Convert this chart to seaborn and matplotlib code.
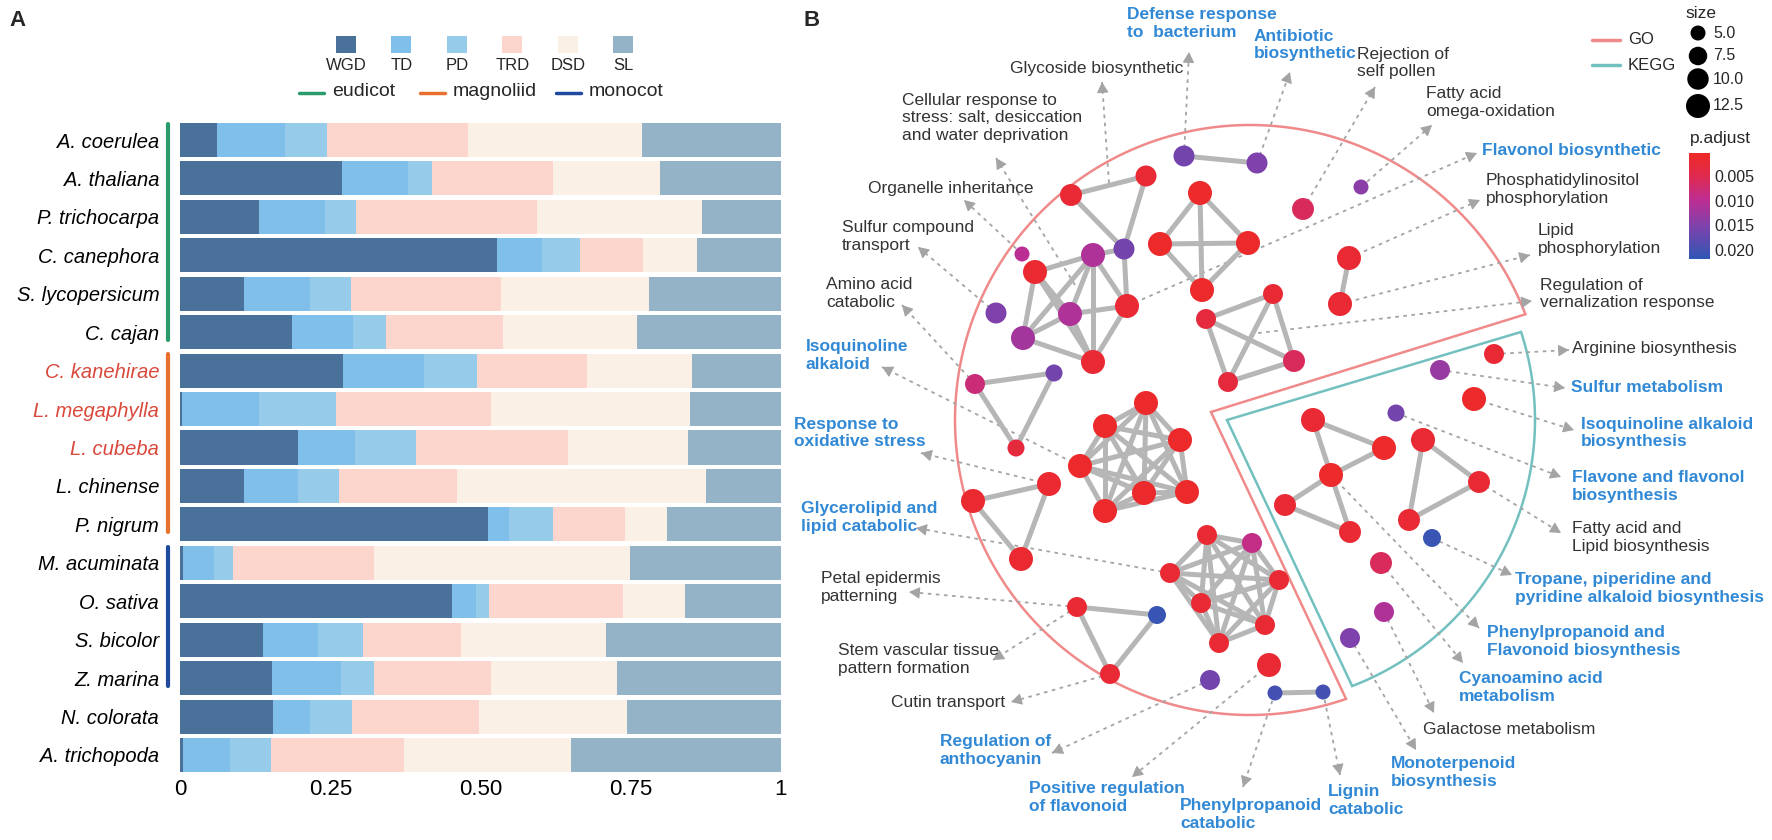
import itertools
import numpy as np
import pandas as pd
import matplotlib
matplotlib.use('Agg')
import matplotlib.pyplot as plt
import seaborn as sns
from matplotlib.patches import Rectangle, Polygon
from matplotlib.colors import LinearSegmentedColormap, Normalize
from matplotlib.cm import ScalarMappable

sns.set_theme(style='white')
plt.rcParams['font.family'] = ['Liberation Sans', 'DejaVu Sans']

# ---------------- panel A data ----------------
species = ['A. coerulea', 'A. thaliana', 'P. trichocarpa', 'C. canephora', 'S. lycopersicum',
           'C. cajan', 'C. kanehirae', 'L. megaphylla', 'L. cubeba', 'L. chinense', 'P. nigrum',
           'M. acuminata', 'O. sativa', 'S. bicolor', 'Z. marina', 'N. colorata', 'A. trichopoda']
red_species = ['C. kanehirae', 'L. megaphylla', 'L. cubeba']
wgd = [0.061, 0.270, 0.131, 0.528, 0.106, 0.186, 0.272, 0.004, 0.197, 0.107, 0.512,
       0.005, 0.453, 0.138, 0.153, 0.155, 0.005]
td = [0.113, 0.109, 0.111, 0.075, 0.111, 0.102, 0.134, 0.127, 0.094, 0.090, 0.035,
      0.051, 0.039, 0.091, 0.115, 0.061, 0.079]
pd_ = [0.071, 0.040, 0.051, 0.063, 0.067, 0.055, 0.089, 0.128, 0.101, 0.067, 0.073,
       0.032, 0.022, 0.076, 0.055, 0.070, 0.068]
trd = [0.235, 0.201, 0.301, 0.104, 0.250, 0.195, 0.183, 0.259, 0.253, 0.197, 0.120,
       0.235, 0.223, 0.162, 0.195, 0.212, 0.220]
dsd = [0.288, 0.178, 0.274, 0.090, 0.246, 0.223, 0.174, 0.331, 0.201, 0.415, 0.070,
       0.426, 0.103, 0.241, 0.209, 0.245, 0.279]
sl = [0.232, 0.202, 0.132, 0.140, 0.220, 0.239, 0.148, 0.151, 0.154, 0.124, 0.190,
      0.251, 0.160, 0.292, 0.273, 0.257, 0.349]
categories = ['WGD', 'TD', 'PD', 'TRD', 'DSD', 'SL']
cat_colors = ['#4a7199', '#7fbfea', '#97cbea', '#fcd6cc', '#faf0e6', '#94b3c6']
groups = ['eudicot', 'magnoliid', 'monocot']
group_rows = [(0, 5), (6, 10), (11, 14)]
group_colors = ['#2b9b6b', '#e8702e', '#1f4aa0']

# ---------------- panel B data ----------------
node_x = [1184, 1257, 1146, 1071, 1124, 1022, 1035, 1093, 1070, 1127, 996, 1023, 1093,
          1200, 1160, 1248, 1202, 1361, 1303, 1349, 1340, 1273, 1206, 1294, 1228,
          975, 1054, 1016, 1146, 1105, 1180, 1080, 1144, 1187, 1105, 973, 1049, 1021,
          1170, 1207, 1252, 1279, 1201, 1265, 1219, 1077, 1157, 1110, 1269, 1210, 1275, 1323,
          1494, 1440, 1474, 1396, 1313, 1384, 1331, 1285, 1350, 1423, 1479, 1409, 1432,
          1381, 1384, 1350]
node_y = [156, 163, 176, 195, 249, 254, 272, 255, 314, 306, 313, 338, 362,
          193, 244, 243, 290, 187, 209, 258, 304, 294, 319, 361, 382,
          384, 373, 448, 403, 426, 440, 466, 493, 492, 511, 501, 484, 559,
          573, 535, 543, 580, 603, 625, 643, 607, 615, 674, 665, 680, 693, 692,
          354, 370, 399, 413, 420, 448, 475, 505, 532, 440, 482, 520, 538,
          563, 612, 638]
node_count = [9.6, 9.6, 9.6, 10.5, 9.6, 3.3, 13.5, 13.5, 13.5, 12.5, 9.6, 13.5, 12.5,
              13.5, 13.5, 13.5, 12.5, 3.3, 10.5, 12.5, 12.5, 8.7, 8.7, 10.5, 8.7,
              8.7, 6.4, 6.4, 16.9, 16.9, 15.8, 16.9, 18.2, 15.8, 16.9, 12.5, 12.5, 12.5,
              8.7, 8.7, 8.7, 8.7, 8.7, 8.7, 8.7, 8.7, 7.1, 8.7, 12.5, 8.7, 3.3, 3.3,
              8.7, 8.7, 19.4, 6.4, 12.5, 18.2, 15.8, 10.5, 10.5, 12.5, 10.5, 10.5, 7.1,
              10.5, 8.7, 8.7]
node_padj = [0.016, 0.015, 0.002, 0.002, 0.016, 0.010, 0.0015, 0.011, 0.011, 0.002, 0.015, 0.012, 0.002,
             0.001, 0.001, 0.001, 0.001, 0.014, 0.006, 0.002, 0.002, 0.002, 0.003, 0.006, 0.003,
             0.008, 0.016, 0.003, 0.001, 0.001, 0.001, 0.001, 0.001, 0.001, 0.001, 0.0015, 0.0015, 0.0015,
             0.002, 0.002, 0.009, 0.002, 0.002, 0.002, 0.002, 0.002, 0.021, 0.002, 0.002, 0.016, 0.020, 0.020,
             0.002, 0.013, 0.001, 0.016, 0.002, 0.001, 0.001, 0.002, 0.002, 0.002, 0.002, 0.002, 0.021,
             0.006, 0.011, 0.015]
edges = [(0, 1), (2, 3), (3, 4), (2, 4), (4, 7), (4, 9),
         (6, 7), (6, 8), (6, 11), (6, 12), (7, 8), (7, 9), (7, 11), (7, 12), (8, 9), (8, 11),
         (8, 12), (9, 12), (11, 12),
         (19, 20), (25, 26), (25, 27), (26, 27), (35, 36), (35, 37), (36, 37),
         (45, 46), (45, 47), (46, 47), (50, 51),
         (56, 57), (56, 58), (57, 58), (58, 59), (58, 60), (59, 60), (61, 62), (61, 63), (62, 63)]
edges += list(itertools.combinations([13, 14, 15, 16], 2))
edges += list(itertools.combinations([21, 22, 23, 24], 2))
edges += list(itertools.combinations(range(28, 35), 2))
edges += list(itertools.combinations(range(38, 45), 2))

term_text = ['Defense response\nto  bacterium', 'Antibiotic\nbiosynthetic', 'Glycoside biosynthetic',
             'Rejection of\nself pollen', 'Fatty acid\nomega-oxidation',
             'Cellular response to\nstress: salt, desiccation\nand water deprivation',
             'Flavonol biosynthetic', 'Phosphatidylinositol\nphosphorylation', 'Organelle inheritance',
             'Sulfur compound\ntransport', 'Lipid\nphosphorylation', 'Amino acid\ncatabolic',
             'Regulation of\nvernalization response', 'Isoquinoline\nalkaloid', 'Arginine biosynthesis',
             'Sulfur metabolism', 'Response to\noxidative stress', 'Isoquinoline alkaloid\nbiosynthesis',
             'Flavone and flavonol\nbiosynthesis', 'Glycerolipid and\nlipid catabolic',
             'Fatty acid and\nLipid biosynthesis', 'Petal epidermis\npatterning',
             'Tropane, piperidine and\npyridine alkaloid biosynthesis',
             'Phenylpropanoid and\nFlavonoid biosynthesis', 'Stem vascular tissue\npattern formation',
             'Cyanoamino acid\nmetabolism', 'Cutin transport', 'Galactose metabolism',
             'Regulation of\nanthocyanin', 'Monoterpenoid\nbiosynthesis', 'Positive regulation\nof flavonoid',
             'Phenylpropanoid\ncatabolic', 'Lignin\ncatabolic']
term_x = [1127, 1254, 1010, 1357, 1426, 902, 1482, 1486, 868, 842, 1538, 826, 1540, 806, 1572,
          1571, 794, 1581, 1572, 801, 1572, 821, 1515, 1487, 838, 1459, 891, 1423, 940, 1391,
          1029, 1180, 1328]
term_y = [23.5, 45, 69, 63, 102.5, 118, 150, 189.5, 189, 236.5, 239.5, 293.5, 294, 355.5, 349,
          388, 433, 433, 486.5, 517.5, 537.5, 587.5, 588.5, 641.5, 659.5, 687.5, 703, 730, 750.5,
          772.5, 797.5, 814.5, 800.5]
term_blue = [1, 1, 0, 0, 0, 0, 1, 0, 0, 0, 0, 0, 0, 1, 0, 1, 1, 1, 1, 1, 0, 0, 1, 1, 0, 1, 0, 0,
             1, 1, 1, 1, 1]
# arrow: start node (or point) -> arrow tip
arrow_start = [0, 1, (1109, 183), 18, 17, (1075, 285), 9, 19, 5, 10, 20, 25, (1250, 334), 31,
               52, 53, 36, 54, 55, 38, 62, 45, 64, 58, 45, 65, 47, 66, 49, 67, 48, 50, 51]
arrow_tip = [(1189, 52), (1290, 72), (1102, 82), (1375, 87), (1432, 125), (996, 158), (1477, 153),
             (1480, 200), (964, 200), (918, 247), (1530, 255), (902, 305), (1532, 301), (882, 367),
             (1569, 350), (1565, 388), (921, 453), (1574, 430), (1561, 477), (916, 528), (1561, 533),
             (909, 592), (1512, 575), (1479, 628), (993, 660), (1463, 663), (1011, 702), (1434, 713),
             (1052, 753), (1416, 750), (1132, 777), (1243, 787), (1340, 775)]

W, H = 1772, 840
fig = plt.figure(figsize=(W / 100, H / 100), dpi=100)


def fx(px):
    return px / W


def fy(py):
    return 1 - py / H


# ---------------- panel A ----------------
ax = fig.add_axes([fx(180), fy(772), (781 - 180) / W, (772 - 123) / H])
df = pd.DataFrame({'species': species, 'WGD': wgd, 'TD': td, 'PD': pd_, 'TRD': trd,
                   'DSD': dsd, 'SL': sl})
cum = df[categories].cumsum(axis=1)
cum['species'] = df['species']
for cat, col in reversed(list(zip(categories, cat_colors))):
    sns.barplot(data=cum, x=cat, y='species', order=species, orient='h', color=col,
                saturation=1, width=0.885, linewidth=0, errorbar=None, ax=ax)
ax.set_xlim(0, 1)
ax.set_ylim(16 + 0.4425, -0.4425)
ax.set_xlabel('')
ax.set_ylabel('')
ax.set_xticks([0, 0.25, 0.5, 0.75, 1], labels=['0', '0.25', '0.50', '0.75', '1'], fontsize=16)
ax.set_yticks(range(len(species)), labels=species, fontsize=14.5, fontstyle='italic')
for lab in ax.get_yticklabels():
    lab.set_color('#d9483b' if lab.get_text() in red_species else 'black')
ax.tick_params(axis='y', length=0, pad=15)
ax.tick_params(axis='x', length=0, pad=5, colors='black')
sns.despine(ax=ax, left=True, bottom=True)
for (r0, r1), col in zip(group_rows, group_colors):
    ax.plot([-0.02, -0.02], [r0 - 0.42, r1 + 0.2], color=col, lw=3, clip_on=False,
            solid_capstyle='round')

# ---------------- overlay in pixel coordinates ----------------
axo = fig.add_axes([0, 0, 1, 1])
axo.patch.set_alpha(0)

# panel A legend
for i, (cat, col) in enumerate(zip(categories, cat_colors)):
    cx = 346 + i * 55.5
    axo.add_patch(Rectangle((cx - 10, 36), 20, 17, color=col, lw=0))
    axo.text(cx, 66, cat, ha='center', va='center', fontsize=12)
for g, col, lx in zip(groups, group_colors, [299, 420, 556]):
    axo.plot([lx, lx + 25], [93, 93], color=col, lw=2.5)
    axo.text(lx + 33, 92, g, ha='left', va='center', fontsize=14)

axo.text(18, 20, 'A', fontsize=16, fontweight='bold', ha='center', va='center')
axo.text(812, 20, 'B', fontsize=16, fontweight='bold', ha='center', va='center')

# GO / KEGG outlines
cx0, cy0 = 1250, 420
th = np.radians(np.linspace(21, 289, 200))
go_pts = np.column_stack([cx0 + 295 * np.cos(th), cy0 - 295 * np.sin(th)])
go_pts = np.vstack([go_pts, [[1211, 412]]])
axo.add_patch(Polygon(go_pts, closed=True, fill=False, ec='#f08a8a', lw=1.8, zorder=1))
th = np.radians(np.linspace(-69, 18, 100))
kg_pts = np.column_stack([cx0 + 285 * np.cos(th), cy0 - 285 * np.sin(th)])
kg_pts = np.vstack([[[1227, 420]], kg_pts])
axo.add_patch(Polygon(kg_pts, closed=True, fill=False, ec='#72c0bf', lw=1.8, zorder=1))

# dotted arrows
arrow_col = '#a4a4a4'
for st, tip in zip(arrow_start, arrow_tip):
    if isinstance(st, int):
        st = (node_x[st], node_y[st])
    axo.plot([st[0], tip[0]], [st[1], tip[1]], ls=(0, (2, 2.5)), color=arrow_col, lw=1.3,
             zorder=1)
    v = np.array(tip, float) - np.array(st, float)
    v /= np.hypot(*v)
    axo.annotate('', xy=tip, xytext=(tip[0] - 9 * v[0], tip[1] - 9 * v[1]),
                 arrowprops=dict(arrowstyle='-|>,head_length=0.55,head_width=0.3',
                                 color=arrow_col, lw=0.8, shrinkA=0, shrinkB=0), zorder=1)

# edges
for a, b in edges:
    axo.plot([node_x[a], node_x[b]], [node_y[a], node_y[b]], color='#b6b6b6', lw=3.6,
             solid_capstyle='round', zorder=2)

# nodes
cmap = LinearSegmentedColormap.from_list(
    'padj', [(0, '#ee2a25'), (0.22, '#df2a50'), (0.45, '#bb2e93'), (0.68, '#8141ab'),
             (1, '#2f57b5')])
pnorm = Normalize(0.0003, 0.0218)
size_norm = (5, 12.5)
size_range = (116.6, 298.6)
nodes = pd.DataFrame({'x': node_x, 'y': node_y, 'count': node_count, 'padj': node_padj})
sns.scatterplot(data=nodes, x='x', y='y', hue='padj', size='count', palette=cmap,
                hue_norm=pnorm, size_norm=size_norm, sizes=size_range, edgecolor='none',
                linewidth=0, legend=False, ax=axo, zorder=3)

# term labels
for t, x, y, b in zip(term_text, term_x, term_y, term_blue):
    axo.text(x, y, t, ha='left', va='center', fontsize=12.5, linespacing=1.2,
             color='#3189d6' if b else '#333333', fontweight='bold' if b else 'normal')

# GO/KEGG legend
for lab, col, y in [('GO', '#f08a8a', 40), ('KEGG', '#72c0bf', 65)]:
    axo.plot([1592, 1620], [y, y], color=col, lw=2.5)
    axo.text(1628, y, lab, ha='left', va='center', fontsize=12)

# size legend
size_levels = [5.0, 7.5, 10.0, 12.5]
size_y = [33, 56, 79, 106]
axo.text(1685, 14, 'size', ha='left', va='center', fontsize=12.5)
sns.scatterplot(x=[1698] * 4, y=size_y, size=size_levels, size_norm=size_norm, sizes=size_range,
                color='black', edgecolor='none', linewidth=0, legend=False, ax=axo, zorder=3)
for lv, y in zip(size_levels, size_y):
    axo.text(1713, y, f'{lv:.1f}', ha='left', va='center', fontsize=11.5)
axo.text(1690, 138, 'p.adjust', ha='left', va='center', fontsize=12.5)

axo.set_xlim(0, W)
axo.set_ylim(H, 0)
axo.axis('off')

# colorbar
cax = fig.add_axes([fx(1689), fy(259), 21 / W, 106 / H])
cb = fig.colorbar(ScalarMappable(norm=pnorm, cmap=cmap), cax=cax,
                  ticks=[0.005, 0.010, 0.015, 0.020])
cb.ax.set_yticklabels(['0.005', '0.010', '0.015', '0.020'])
cax.invert_yaxis()
cb.outline.set_visible(False)
cax.tick_params(labelsize=11.5, length=4, color='white', direction='in', pad=3)

fig.savefig('out.png', dpi=100)
